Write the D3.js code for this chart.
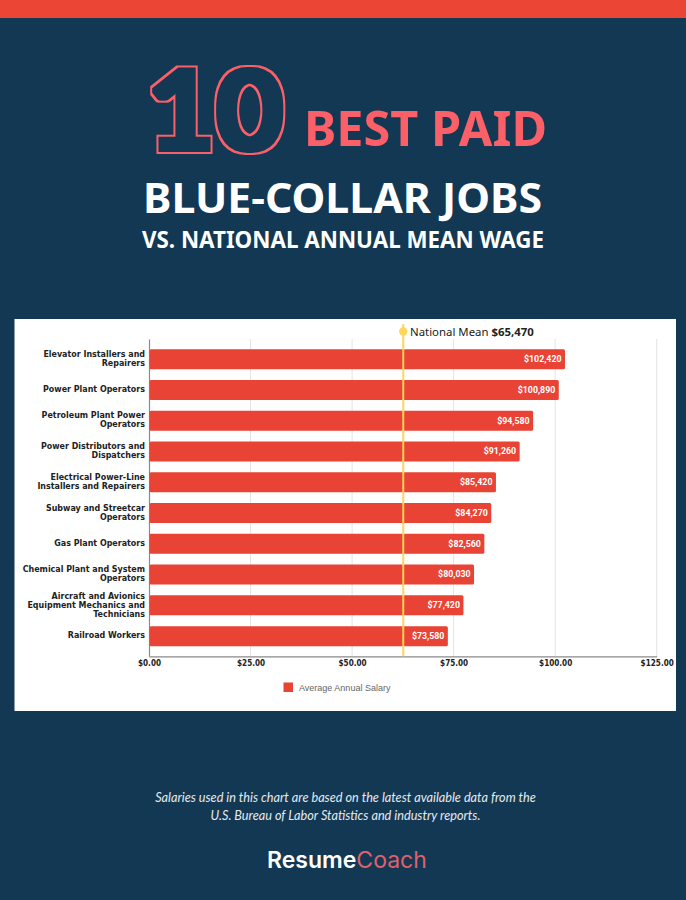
<!DOCTYPE html>
<html><head><meta charset="utf-8">
<script src="https://cdn.jsdelivr.net/npm/d3@7/dist/d3.min.js"></script>
<style>html,body{margin:0;padding:0;background:#123854;overflow:hidden}svg{display:block}</style>
</head><body><svg id="c" width="686" height="900"></svg>
<script>
const categories = ["Elevator Installers and|Repairers","Power Plant Operators","Petroleum Plant Power|Operators","Power Distributors and|Dispatchers","Electrical Power-Line|Installers and Repairers","Subway and Streetcar|Operators","Gas Plant Operators","Chemical Plant and System|Operators","Aircraft and Avionics|Equipment Mechanics and|Technicians","Railroad Workers"];
const salaries = [102420,100890,94580,91260,85420,84270,82560,80030,77420,73580];
const axisTicks = [0,25000,50000,75000,100000,125000];
const meanLabel = "$65,470";
const meanDrawnAt = [62600];
const seriesName = "Average Annual Salary";

const NAVY="#123854",RED="#e94335",PINK="#fb5f67";
const svg=d3.select("#c");
const defs=svg.append("defs");
const f=defs.append("filter").attr("id","outline").attr("filterUnits","userSpaceOnUse")
  .attr("x",120).attr("y",40).attr("width",200).attr("height",140).attr("color-interpolation-filters","sRGB");
f.append("feMorphology").attr("in","SourceGraphic").attr("operator","dilate").attr("radius",4).attr("result","o");
f.append("feMorphology").attr("in","SourceGraphic").attr("operator","dilate").attr("radius",1.8).attr("result","i");
f.append("feComposite").attr("in","o").attr("in2","i").attr("operator","out");

svg.append("rect").attr("width",686).attr("height",900).attr("fill",NAVY);
svg.append("rect").attr("width",686).attr("height",18).attr("fill","#ea4535");

function fit(t,x,y,size,w,fam,weight,fill,anchor){
  return svg.append("text").text(t).attr("x",x).attr("y",y).attr("font-size",size).attr("font-family",fam)
    .attr("font-weight",weight).attr("fill",fill).attr("text-anchor",anchor||"start")
    .attr("textLength",w).attr("lengthAdjust","spacingAndGlyphs");
}
const head="'Noto Sans', sans-serif";
fit("10",147,150,110,137,"Lato",900,PINK).attr("filter","url(#outline)");
fit("BEST PAID",304,146,49,243,head,700,PINK);
fit("BLUE-COLLAR JOBS",143,213,42,399,head,700,"#fff");
fit("VS. NATIONAL ANNUAL MEAN WAGE",142,248,24,402,head,700,"#fff");

svg.append("rect").attr("x",14.5).attr("y",319).attr("width",661.5).attr("height",392).attr("fill","#fff");

const x=d3.scaleLinear().domain([0,125000]).range([149,656.7]);
const y=d3.scaleBand().domain(categories).range([339,656.3]).paddingInner(0.35).paddingOuter(0.33);
const labelFont="'DejaVu Sans', sans-serif";

svg.append("g").selectAll("line").data(axisTicks.slice(1)).join("line")
  .attr("x1",d=>x(d)).attr("x2",d=>x(d)).attr("y1",339).attr("y2",656.3).attr("stroke","#e4e4e4").attr("stroke-width",1);

const gx=svg.append("g").attr("transform","translate(0,656.3)")
  .call(d3.axisBottom(x).tickValues(axisTicks).tickSize(0).tickPadding(4).tickFormat(d=>"$"+d3.format(".2f")(d/1000)));
gx.select(".domain").attr("stroke","#8a8a8a").attr("stroke-width",1.2);
gx.selectAll("text").attr("font-family",labelFont).attr("font-weight",700).attr("font-size",8.1).attr("fill","#222").style("font-stretch","condensed");

const gy=svg.append("g").attr("transform","translate(149,0)").call(d3.axisLeft(y).tickSize(0).tickPadding(4));
gy.select(".domain").attr("stroke","#8a8a8a").attr("stroke-width",1.2);
gy.selectAll("text").each(function(d){
  const lines=d.split("|"),t=d3.select(this).text(null).attr("dy",null).attr("y",null);
  const lh=9;
  lines.forEach((l,i)=>t.append("tspan").attr("x",-4).attr("y",(i-(lines.length-1)/2)*lh-0.6).attr("dy","0.32em").text(l));
}).attr("font-family",labelFont).attr("font-weight",700).attr("font-size",8.85).attr("fill","#222").style("font-stretch","condensed");

svg.append("g").selectAll("rect").data(salaries).join("rect")
  .attr("x",x(0)+0.5).attr("y",(d,i)=>y(categories[i])).attr("height",y.bandwidth())
  .attr("width",d=>x(d)-x(0)-0.5).attr("rx",1.5).attr("fill",RED);
svg.append("g").selectAll("text").data(salaries).join("text")
  .attr("x",d=>x(d)-3.5).attr("y",(d,i)=>y(categories[i])+y.bandwidth()/2).attr("dy","0.33em")
  .attr("text-anchor","end").attr("fill","#fff").attr("font-family","Roboto, sans-serif").attr("font-weight",700).attr("font-size",8.8)
  .text(d=>"$"+d3.format(",")(d));

const gm=svg.append("g").selectAll("g").data(meanDrawnAt).join("g");
gm.append("line").attr("x1",d=>x(d)).attr("x2",d=>x(d)).attr("y1",324).attr("y2",656.3).attr("stroke","#fdd65a").attr("stroke-width",2);
gm.append("circle").attr("cx",d=>x(d)).attr("cy",331.5).attr("r",4.2).attr("fill","#fdd65a");
const ml=svg.append("text").attr("x",410).attr("y",336).attr("font-family","'Noto Sans', sans-serif").attr("font-size",11.4).attr("fill","#222");
ml.append("tspan").text("National Mean ");
ml.append("tspan").attr("font-weight",700).text(meanLabel);

svg.append("rect").attr("x",283.5).attr("y",682.5).attr("width",9.5).attr("height",9.5).attr("fill",RED);
svg.append("text").attr("x",299).attr("y",690.5).attr("font-family","'Liberation Sans', sans-serif").attr("font-size",9).attr("fill","#666").text(seriesName);

const foot="Lato, 'Noto Sans', sans-serif";
svg.append("text").attr("x",345.5).attr("y",802).attr("text-anchor","middle").attr("font-family",foot).attr("font-style","italic").attr("font-size",12.7).attr("fill","#e6eaee").text("Salaries used in this chart are based on the latest available data from the");
svg.append("text").attr("x",345.5).attr("y",819.5).attr("text-anchor","middle").attr("font-family",foot).attr("font-style","italic").attr("font-size",12.7).attr("fill","#e6eaee").text("U.S. Bureau of Labor Statistics and industry reports.");
const lg=svg.append("text").attr("x",267).attr("y",867.5).attr("font-family","Inter, sans-serif").attr("font-size",23);
lg.append("tspan").attr("font-weight",600).attr("fill","#fff").text("Resume");
lg.append("tspan").attr("font-weight",400).attr("fill","#e0606a").text("Coach");
</script></body></html>
